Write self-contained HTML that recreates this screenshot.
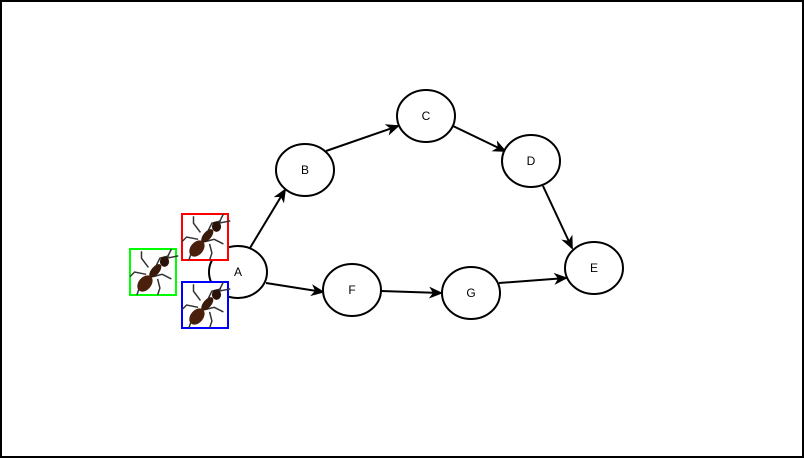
<!DOCTYPE html>
<html><head><style>body{margin:0;background:#fff}svg{display:block}</style></head><body>
<svg width="804" height="458" viewBox="0 0 804 458" xmlns="http://www.w3.org/2000/svg" font-family="Liberation Sans, sans-serif" font-size="12">
<defs>
<marker id="ar" markerWidth="14" markerHeight="12" refX="12" refY="6" orient="auto" markerUnits="userSpaceOnUse"><path d="M0,0 L14,6 L0,12 L4,6 Z" fill="#000"/></marker>
<g id="ant" transform="scale(1.15)">
<g stroke="#333" stroke-width="1.3" fill="none">
<path d="M-4,-4 L-10,-12 L-10,-18"/><path d="M2,-4 L6,-12 L14,-14"/>
<path d="M-6,2 L-16,0 L-20,4"/><path d="M0,4 L8,2 L16,6"/>
<path d="M-4,8 L-12,14 L-14,20"/><path d="M4,6 L6,14 L4,20"/>
<path d="M12,-12 L16,-20"/><path d="M12,-12 L22,-14"/>
</g>
<ellipse cx="-7" cy="10" rx="5.5" ry="8" transform="rotate(40 -7 10)" fill="#4a200c"/>
<ellipse cx="2" cy="-1" rx="3.5" ry="7" transform="rotate(40 2 -1)" fill="#3a1a0a"/>
<ellipse cx="10" cy="-9" rx="4" ry="4.5" fill="#2a1208"/>
</g>
</defs>
<rect x="1" y="1" width="802" height="456" fill="#fff" stroke="#000" stroke-width="2"/>
<g stroke="#000" stroke-width="2" fill="none">
<line x1="250" y1="248" x2="285" y2="190" marker-end="url(#ar)"/>
<line x1="326" y1="151" x2="398" y2="126" marker-end="url(#ar)"/>
<line x1="453" y1="126" x2="505" y2="151" marker-end="url(#ar)"/>
<line x1="543" y1="186" x2="572" y2="248" marker-end="url(#ar)"/>
<line x1="266" y1="283" x2="323" y2="292" marker-end="url(#ar)"/>
<line x1="381" y1="291" x2="441" y2="293" marker-end="url(#ar)"/>
<line x1="499" y1="283" x2="566" y2="278" marker-end="url(#ar)"/>
</g>
<g stroke="#000" stroke-width="2" fill="#fff">
<ellipse cx="238" cy="272" rx="29" ry="26"/>
<ellipse cx="305" cy="170" rx="29" ry="26"/>
<ellipse cx="426" cy="116" rx="29" ry="26"/>
<ellipse cx="531" cy="161" rx="29" ry="26"/>
<ellipse cx="594" cy="268" rx="29" ry="26"/>
<ellipse cx="352" cy="290" rx="29" ry="26"/>
<ellipse cx="471" cy="293" rx="29" ry="26"/>
</g>
<g text-anchor="middle">
<text x="238" y="276">A</text><text x="305" y="174">B</text><text x="426" y="120">C</text>
<text x="531" y="165">D</text><text x="594" y="272">E</text><text x="352" y="294">F</text><text x="471" y="297">G</text>
</g>
<rect x="182" y="214" width="46" height="46" fill="#fff" stroke="#f00" stroke-width="2"/>
<use href="#ant" x="205" y="237"/>
<rect x="130" y="249" width="46" height="46" fill="#fff" stroke="#0f0" stroke-width="2"/>
<use href="#ant" x="153" y="272"/>
<rect x="182" y="282" width="46" height="46" fill="#fff" stroke="#00f" stroke-width="2"/>
<use href="#ant" x="205" y="305"/>
</svg>
</body></html>
